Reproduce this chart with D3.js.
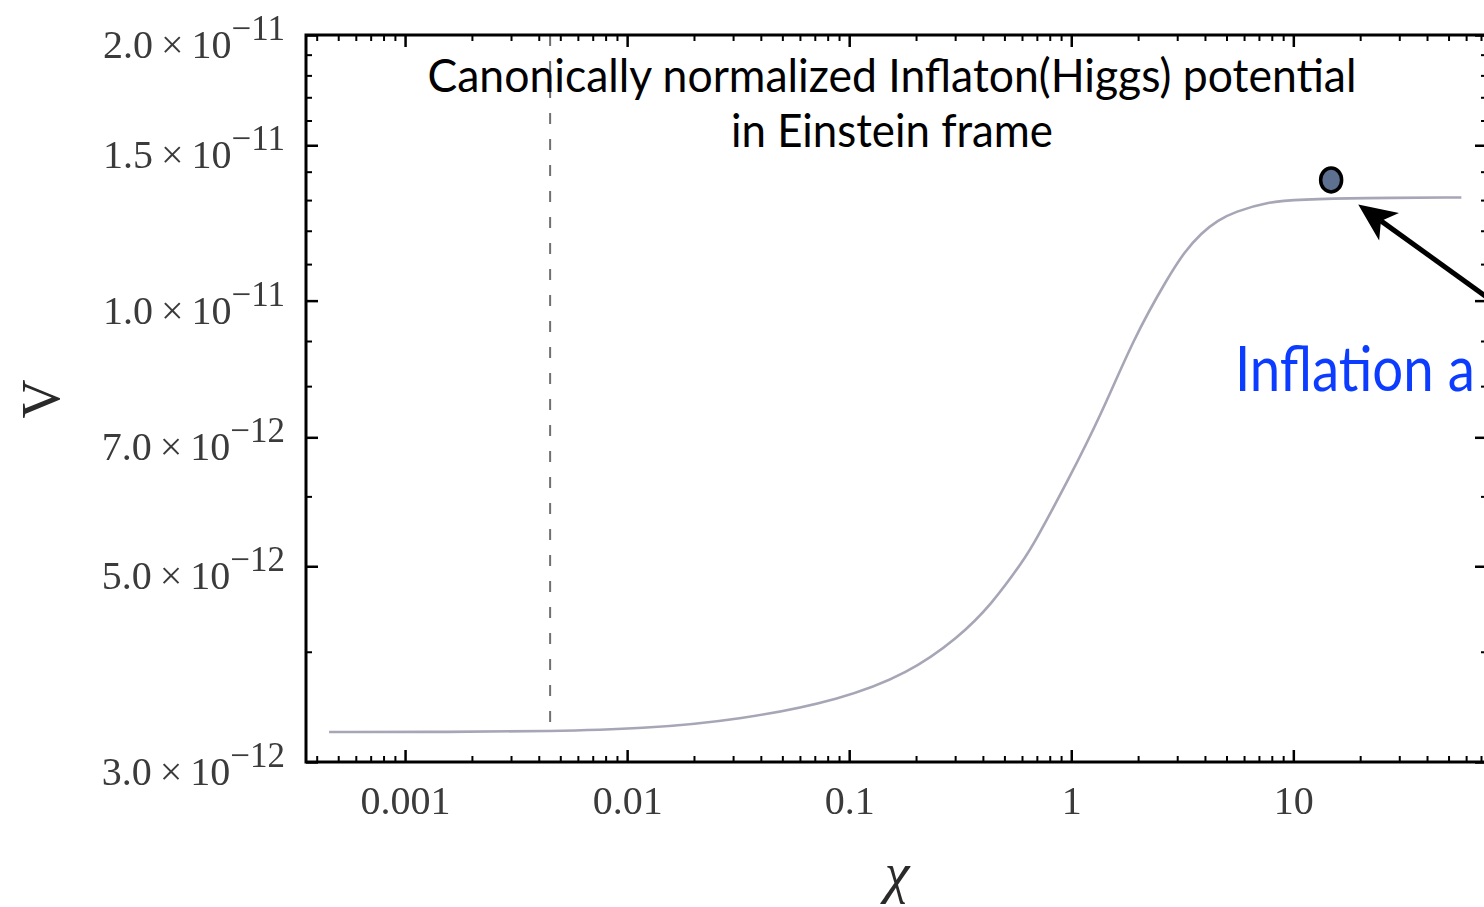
<!DOCTYPE html>
<html>
<head>
<meta charset="utf-8">
<script src="https://cdn.jsdelivr.net/npm/d3@7"></script>
<style>
  html, body { margin: 0; padding: 0; background: #fff; overflow: hidden; }
  svg { display: block; }
</style>
</head>
<body>
<svg id="chart" width="1484" height="907"></svg>
<script>
// Canonical field χ and the Einstein-frame potential V(χ)
const chi = [4.55e-4, 1.6e-3, 4.5e-3, 0.01156, 0.0327, 0.092, 0.1845, 0.31, 0.436, 0.614, 0.681,
             0.969, 1.365, 1.92, 2.735, 3.23, 3.85, 4.59, 5.42, 7.71, 10.87, 20, 57.1];
const potential = [3.244e-12, 3.245e-12, 3.25e-12, 3.27e-12, 3.35e-12, 3.53e-12, 3.78e-12, 4.15e-12, 4.52e-12, 5.09e-12, 5.31e-12,
                   6.26e-12, 7.43e-12, 9.09e-12, 1.064e-11, 1.135e-11, 1.193e-11, 1.234e-11, 1.26e-11, 1.295e-11, 1.302e-11, 1.307e-11, 1.309e-11];

// Axis ticks
const xTickValues = [0.001, 0.01, 0.1, 1, 10];
const xTickLabels = ["0.001", "0.01", "0.1", "1", "10"];
const yTickValues = [2.0e-11, 1.5e-11, 1.0e-11, 7.0e-12, 5.0e-12, 3.0e-12];
const yTickMantissas = ["2.0", "1.5", "1.0", "7.0", "5.0", "3.0"];
const yTickExponents = ["\u221211", "\u221211", "\u221211", "\u221212", "\u221212", "\u221212"];
const yMinorValues = [1.9e-11, 1.8e-11, 1.7e-11, 1.6e-11, 1.4e-11, 1.3e-11, 1.2e-11, 1.1e-11,
                      9e-12, 8e-12, 6e-12, 4e-12];

// Annotations
const markerChi = [0.0045];          // dashed vertical reference
const markerV = [3.25e-12];
const inflatonChi = [14.8];          // field position during inflation
const inflatonV = [1.37e-11];
const arrowTipChi = [19.6], arrowTipV = [1.285e-11];
const arrowTailChi = [90], arrowTailV = [9.75e-12];

const frame = { left: 306, right: 1487, top: 35, bottom: 762 };

const x = d3.scaleLog().domain([3.58e-4, 74.5]).range([frame.left, frame.right]);
const y = d3.scaleLog().domain([3e-12, 2e-11]).range([frame.bottom, frame.top]);

const svg = d3.select("#chart");
const defs = svg.append("defs");
defs.append("filter").attr("id", "soft")
  .append("feGaussianBlur").attr("stdDeviation", 0.45);
defs.append("filter").attr("id", "softline")
  .append("feGaussianBlur").attr("stdDeviation", 0.35);
defs.append("clipPath").attr("id", "plot-clip")
  .append("rect")
  .attr("x", frame.left).attr("y", frame.top)
  .attr("width", frame.right - frame.left).attr("height", frame.bottom - frame.top);

svg.append("rect").attr("width", 1484).attr("height", 907).attr("fill", "#fff");

// minor decade ticks 2..9 × 10^k inside the domain
const xMinor = [];
for (let e = -4; e <= 1; e++) {
  for (let m = 2; m <= 9; m++) {
    const v = m * Math.pow(10, e);
    if (v >= x.domain()[0] && v <= x.domain()[1]) xMinor.push(v);
  }
}

const plot = svg.append("g").attr("clip-path", "url(#plot-clip)");

// dashed reference line
plot.selectAll("line.marker").data(markerChi).join("line")
  .attr("class", "marker")
  .attr("x1", d => x(d)).attr("x2", d => x(d))
  .attr("y1", frame.top).attr("y2", (d, i) => y(markerV[i]))
  .attr("stroke", "#707070").attr("stroke-width", 2)
  .attr("stroke-dasharray", "11,15");

// potential curve
const pts = chi.map((c, i) => [c, potential[i]]);
plot.append("path")
  .datum(pts)
  .attr("fill", "none")
  .attr("stroke", "#a6a6b6")
  .attr("stroke-width", 2.6)
  .attr("filter", "url(#softline)")
  .attr("d", d3.line().x(d => x(d[0])).y(d => y(d[1])).curve(d3.curveBasis));

// axes
function styleTicks(g, w) {
  g.select(".domain").remove();
  g.selectAll(".tick line").attr("stroke", "#000").attr("stroke-width", w);
}

const bottomAxis = svg.append("g").attr("transform", `translate(0,${frame.bottom})`);
bottomAxis.append("g")
  .call(d3.axisBottom(x).tickValues(xMinor).tickFormat("").tickSizeInner(-6).tickSizeOuter(0))
  .call(g => styleTicks(g, 2));
const bottomMajor = bottomAxis.append("g")
  .call(d3.axisBottom(x).tickValues(xTickValues).tickFormat((d, i) => xTickLabels[i])
    .tickSizeInner(-12).tickSizeOuter(0).tickPadding(24))
  .call(g => styleTicks(g, 2.5));
bottomMajor.selectAll(".tick text")
  .attr("font-family", "'Liberation Serif', 'DejaVu Serif', serif")
  .attr("font-size", 40)
  .attr("fill", "#3a3a3a")
  .attr("filter", "url(#soft)");

const topAxis = svg.append("g").attr("transform", `translate(0,${frame.top})`);
topAxis.append("g")
  .call(d3.axisTop(x).tickValues(xMinor).tickFormat("").tickSizeInner(-6).tickSizeOuter(0))
  .call(g => styleTicks(g, 2));
topAxis.append("g")
  .call(d3.axisTop(x).tickValues(xTickValues).tickFormat("").tickSizeInner(-12).tickSizeOuter(0))
  .call(g => styleTicks(g, 2.5));

const leftAxis = svg.append("g").attr("transform", `translate(${frame.left},0)`);
leftAxis.append("g")
  .call(d3.axisLeft(y).tickValues(yMinorValues).tickFormat("").tickSizeInner(-6).tickSizeOuter(0))
  .call(g => styleTicks(g, 2));
leftAxis.append("g")
  .call(d3.axisLeft(y).tickValues(yTickValues).tickFormat("").tickSizeInner(-12).tickSizeOuter(0))
  .call(g => styleTicks(g, 2.5));

const rightAxis = svg.append("g").attr("transform", `translate(${frame.right},0)`);
rightAxis.append("g")
  .call(d3.axisRight(y).tickValues(yMinorValues).tickFormat("").tickSizeInner(-6).tickSizeOuter(0))
  .call(g => styleTicks(g, 2));
rightAxis.append("g")
  .call(d3.axisRight(y).tickValues(yTickValues).tickFormat("").tickSizeInner(-12).tickSizeOuter(0))
  .call(g => styleTicks(g, 2.5));

// y tick labels in scientific notation (kept inside the top edge)
const yLabels = svg.append("g")
  .attr("font-family", "'Liberation Serif', 'DejaVu Serif', serif")
  .attr("fill", "#3a3a3a")
  .attr("filter", "url(#soft)");
yLabels.selectAll("text").data(yTickValues).join("text")
  .attr("x", frame.left - 21)
  .attr("y", d => Math.max(y(d) + 23, frame.top + 18))
  .attr("text-anchor", "end")
  .each(function (d, i) {
    const t = d3.select(this);
    t.append("tspan").attr("font-size", 40).text(yTickMantissas[i] + "\u2009\u00d7\u200910");
    t.append("tspan").attr("font-size", 35).attr("dy", -18).text(yTickExponents[i]);
  });

// frame
svg.append("rect")
  .attr("x", frame.left).attr("y", frame.top)
  .attr("width", frame.right - frame.left).attr("height", frame.bottom - frame.top)
  .attr("fill", "none").attr("stroke", "#000").attr("stroke-width", 3);

// axis titles
svg.append("text")
  .attr("transform", "translate(41,399) rotate(-90)")
  .attr("text-anchor", "middle").attr("dominant-baseline", "central")
  .attr("font-family", "'Liberation Serif', serif").attr("font-size", 54)
  .attr("fill", "#2a2a2a").attr("filter", "url(#soft)")
  .text("V");
svg.append("text")
  .attr("x", 897).attr("y", 892)
  .attr("text-anchor", "middle")
  .attr("font-family", "'Liberation Serif', serif").attr("font-style", "italic").attr("font-size", 56)
  .attr("fill", "#2a2a2a").attr("filter", "url(#soft)")
  .text("\u03c7");

// title
const title = svg.append("g")
  .attr("font-family", "Lato, 'Open Sans', sans-serif")
  .attr("font-size", 46).attr("fill", "#000").attr("text-anchor", "middle");
title.append("text").attr("x", 892).attr("y", 92)
  .attr("textLength", 929).attr("lengthAdjust", "spacingAndGlyphs")
  .text("Canonically normalized Inflaton(Higgs) potential");
title.append("text").attr("x", 892).attr("y", 147)
  .attr("textLength", 322).attr("lengthAdjust", "spacingAndGlyphs")
  .text("in Einstein frame");

// inflaton position and arrow
svg.selectAll("ellipse.inflaton").data(inflatonChi).join("ellipse")
  .attr("class", "inflaton")
  .attr("cx", d => x(d)).attr("cy", (d, i) => y(inflatonV[i]))
  .attr("rx", 10.5).attr("ry", 12)
  .attr("fill", "#5d7090").attr("stroke", "#000").attr("stroke-width", 3.5);

const tip = [x(arrowTipChi[0]), y(arrowTipV[0])];
const tail = [x(arrowTailChi[0]), y(arrowTailV[0])];
const len = Math.hypot(tail[0] - tip[0], tail[1] - tip[1]);
const ux = (tail[0] - tip[0]) / len, uy = (tail[1] - tip[1]) / len;
const px = -uy, py = ux;
const headLen = 38, headHalf = 17, notch = 28;
svg.append("line")
  .attr("x1", tail[0]).attr("y1", tail[1])
  .attr("x2", tip[0] + ux * notch).attr("y2", tip[1] + uy * notch)
  .attr("stroke", "#000").attr("stroke-width", 5);
svg.append("path")
  .attr("d", d3.line()([
    tip,
    [tip[0] + ux * headLen + px * headHalf, tip[1] + uy * headLen + py * headHalf],
    [tip[0] + ux * notch, tip[1] + uy * notch],
    [tip[0] + ux * headLen - px * headHalf, tip[1] + uy * headLen - py * headHalf]
  ]) + "Z")
  .attr("fill", "#000");

svg.append("text")
  .attr("transform", "translate(1235,391) scale(0.88,1)")
  .attr("font-family", "Lato, 'Open Sans', sans-serif")
  .attr("font-size", 62).attr("fill", "#0b3cff")
  .text("Inflation a");
</script>
</body>
</html>
